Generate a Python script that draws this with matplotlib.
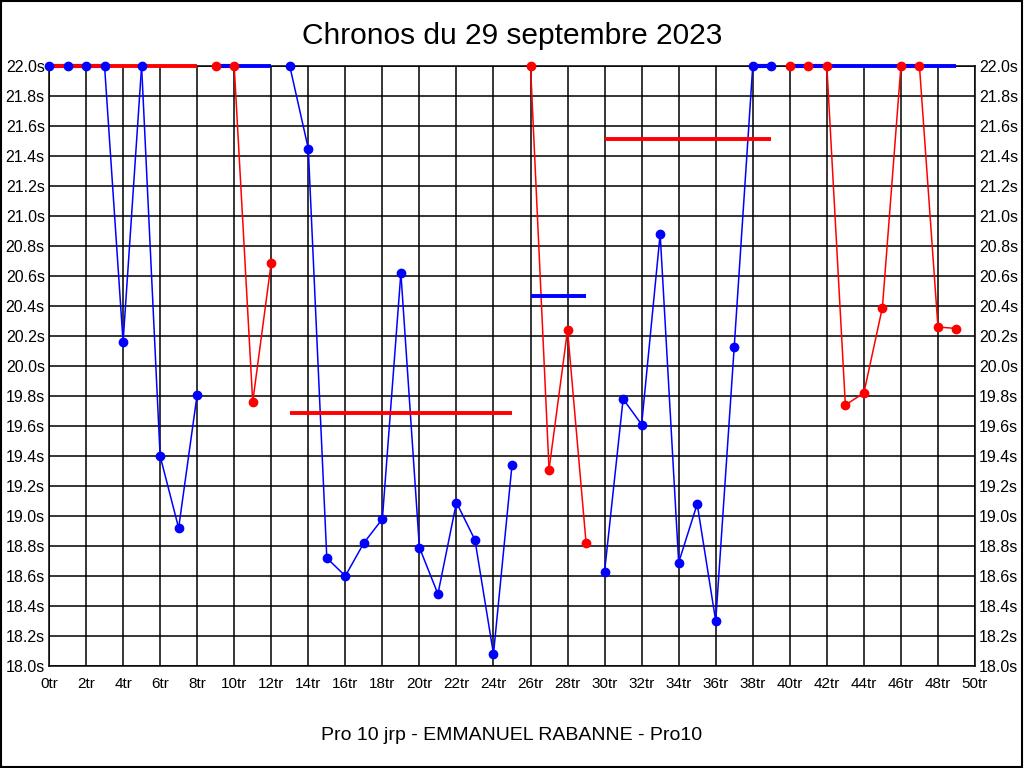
import matplotlib
matplotlib.use("Agg")
import matplotlib.pyplot as plt
from matplotlib.patches import Rectangle

plt.rcParams['font.family'] = ['Liberation Sans', 'DejaVu Sans']

# Temps au tour (plafonnés à 22.0s comme dans le graphique)
laps = list(range(50))
times = [22.0, 22.0, 22.0, 22.0, 20.16, 22.0, 19.40, 18.92, 19.81,
         22.0, 22.0, 19.76, 20.69,
         22.0, 21.45, 18.72, 18.60, 18.82, 18.98, 20.62, 18.79, 18.48, 19.09, 18.84, 18.08, 19.34,
         22.0, 19.31, 20.24, 18.82,
         18.63, 19.78, 19.61, 20.88, 18.69, 19.08, 18.30, 20.13, 22.0, 22.0,
         22.0, 22.0, 22.0, 19.74, 19.82, 20.39, 22.0, 22.0, 20.26, 20.25]

# Relais : premier tour, dernier tour, couleur des points, moyenne
stint_start = [0, 9, 13, 26, 30, 40]
stint_end = [8, 12, 25, 29, 39, 49]
stint_color = ['blue', 'red', 'blue', 'red', 'blue', 'red']
stint_avg = [22.0, 22.0, 19.69, 20.465, 21.51, 22.0]

y_max = 22.0
y_min = 18.0

fig = plt.figure(figsize=(10.24, 7.68), dpi=100)
ax = fig.add_axes([49 / 1024, 1 - 666 / 768, (975 - 49) / 1024, 600 / 768])

for s, e, c, avg in zip(stint_start, stint_end, stint_color, stint_avg):
    xs = laps[s:e + 1]
    ys = times[s:e + 1]
    # segments entre tours consécutifs
    for i in range(len(xs) - 1):
        lw = 3.0 if (ys[i] >= y_max and ys[i + 1] >= y_max) else 1.1
        ax.plot(xs[i:i + 2], ys[i:i + 2], color=c, linewidth=lw, clip_on=False, zorder=3)
    # ligne de moyenne (couleur opposée)
    avg_color = 'red' if c == 'blue' else 'blue'
    ax.plot([xs[0], xs[-1]], [avg, avg], color=avg_color, linewidth=2.8,
            solid_capstyle='butt', clip_on=False, zorder=4)
    ax.plot(xs, ys, linestyle='none', marker='o', markersize=6,
            color=c, clip_on=False, zorder=5)

ax.set_xlim(0, 50)
ax.set_ylim(y_min, y_max)
ax.set_xticks(range(0, 51, 2))
ax.set_xticklabels([f"{v}tr" for v in range(0, 51, 2)])
yt = [round(y_min + 0.2 * i, 1) for i in range(21)]
ax.set_yticks(yt)
ax.set_yticklabels([f"{v:.1f}s" for v in yt])
ax.tick_params(axis='y', which='both', left=True, right=True,
               labelleft=True, labelright=True, length=0, pad=3, labelsize=11.5)
ax.tick_params(axis='x', length=0, pad=8, labelsize=11)
ax.grid(True, color='black', linewidth=1.1)
ax.set_axisbelow(True)
for sp in ax.spines.values():
    sp.set_color('black')
    sp.set_linewidth(1.1)

fig.text(0.5, 1 - 36 / 768, "Chronos du 29 septembre 2023", ha='center', va='center', fontsize=21.5)
fig.text(0.5, 1 - 735 / 768, "Pro 10 jrp - EMMANUEL RABANNE - Pro10", ha='center', va='center', fontsize=14)

# cadre autour de l'image
fig.patches.append(Rectangle((0.0005, 0.0008), 0.9975, 0.9985, transform=fig.transFigure,
                             fill=False, edgecolor='black', linewidth=1.5))

fig.savefig("out.png", dpi=100)
